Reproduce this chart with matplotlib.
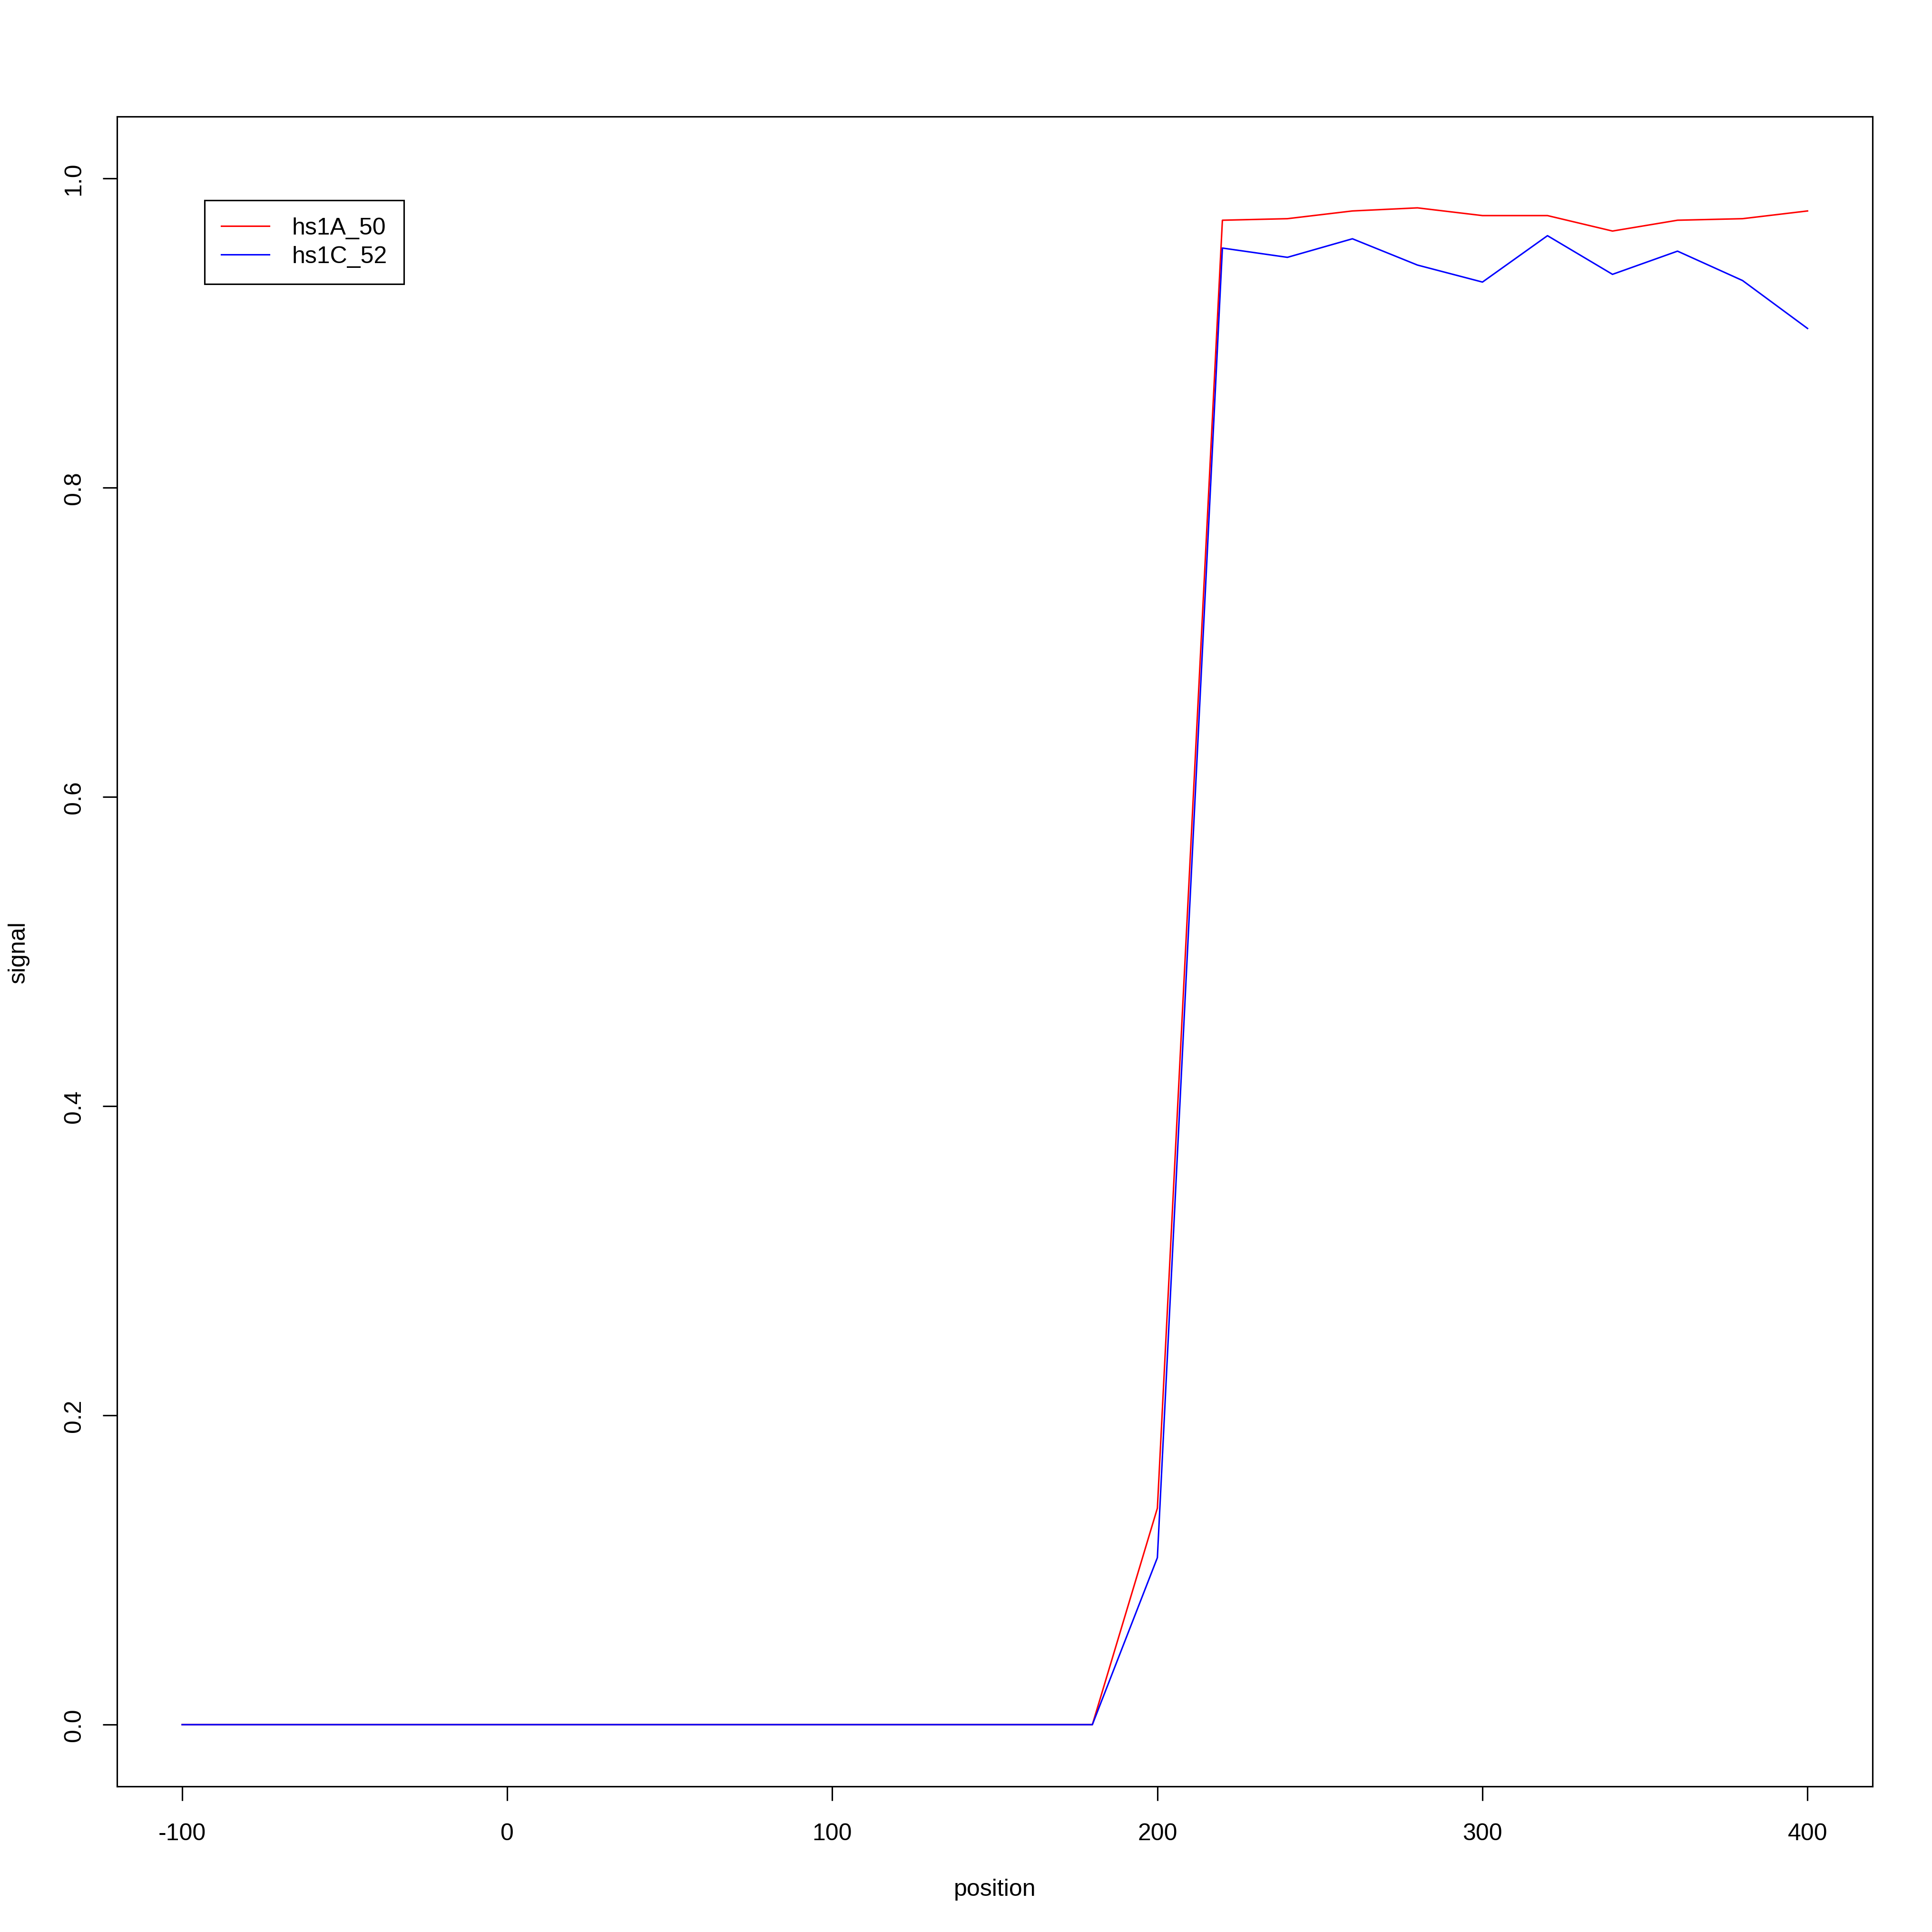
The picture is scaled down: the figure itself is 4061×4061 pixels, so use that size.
import matplotlib
matplotlib.use("Agg")
import matplotlib.pyplot as plt
from matplotlib.legend_handler import HandlerLine2D

plt.rcParams['font.family'] = ['Liberation Sans', 'DejaVu Sans']
plt.rcParams['font.size'] = 12

# positions and signal for the two samples
position = [-100, -80, -60, -40, -20, 0, 20, 40, 60, 80, 100, 120, 140, 160,
            180, 200, 220, 240, 260, 280, 300, 320, 340, 360, 380, 400]
hs1A_50 = [0, 0, 0, 0, 0, 0, 0, 0, 0, 0, 0, 0, 0, 0,
           0, 0.140, 0.973, 0.974, 0.979, 0.981, 0.976, 0.976, 0.966, 0.973, 0.974, 0.979]
hs1C_52 = [0, 0, 0, 0, 0, 0, 0, 0, 0, 0, 0, 0, 0, 0,
           0, 0.108, 0.955, 0.949, 0.961, 0.944, 0.933, 0.963, 0.938, 0.953, 0.934, 0.903]

xticks = [-100, 0, 100, 200, 300, 400]
yticks = [0.0, 0.2, 0.4, 0.6, 0.8, 1.0]


class ShiftedLine(HandlerLine2D):
    # legend line starts a little further in, like R's legend()
    shift = 0.18 * 12

    def create_artists(self, legend, orig_handle, xdescent, ydescent,
                       width, height, fontsize, trans):
        arts = super().create_artists(legend, orig_handle, xdescent, ydescent,
                                      width, height, fontsize, trans)
        for a in arts:
            x = a.get_xdata()
            if len(x) == 2:
                a.set_xdata([x[0] + self.shift, x[1]])
        return arts


W = 4062 / 300
fig = plt.figure(figsize=(W, W), dpi=300)
ax = fig.add_axes([0.0606, 0.0753, 0.9084, 0.8641])

ax.plot(position, hs1A_50, color='#FF0000', lw=0.75, label='hs1A_50')
ax.plot(position, hs1C_52, color='#0000FF', lw=0.75, label='hs1C_52')

ax.set_xlim(-120, 420)
ax.set_ylim(-0.04, 1.04)
ax.set_xticks(xticks)
ax.set_xticklabels([str(t) for t in xticks])
ax.set_yticks(yticks)
ax.set_yticklabels(['%.1f' % t for t in yticks], rotation=90, va='center')

for s in ax.spines.values():
    s.set_linewidth(0.75)
ax.tick_params(length=7.2, width=0.75, labelsize=12)
ax.tick_params(axis='x', pad=11)
ax.tick_params(axis='y', pad=9)

ax.set_xlabel('position', fontsize=12, labelpad=17)
ax.set_ylabel('signal', fontsize=12, labelpad=17)

leg = ax.legend(loc='upper left', bbox_to_anchor=(0.0499, 0.9499), borderaxespad=0,
                fancybox=False, edgecolor='black', framealpha=1, fontsize=12,
                handlelength=2.02, handletextpad=0.94, borderpad=0.7, labelspacing=0.28,
                handler_map={plt.Line2D: ShiftedLine()})
leg.get_frame().set_linewidth(0.75)

fig.savefig('out.png', dpi=300)
